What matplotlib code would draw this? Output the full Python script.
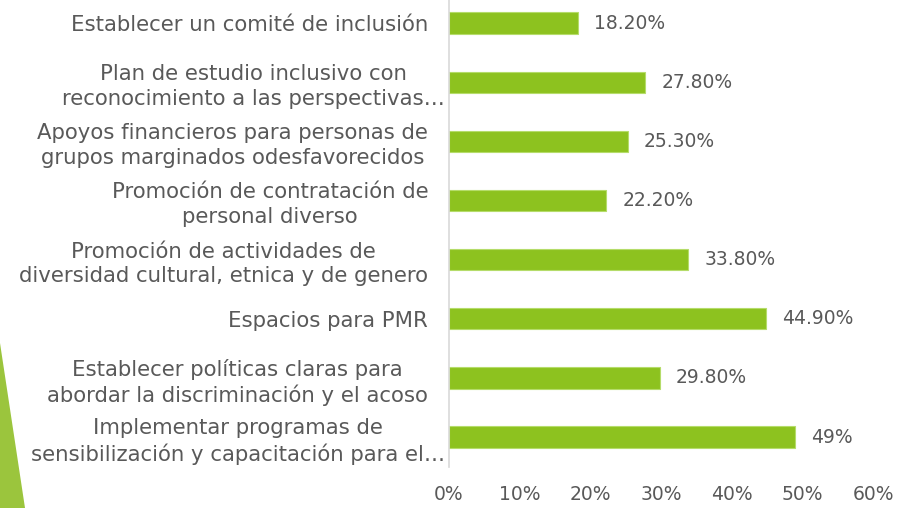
import matplotlib
matplotlib.use("Agg")
import matplotlib.pyplot as plt
import matplotlib.transforms as mtransforms
from matplotlib.patches import Polygon
from matplotlib.ticker import FuncFormatter

labels = [
    "Establecer un comité de inclusión",
    "Plan de estudio inclusivo con\nreconocimiento a las perspectivas…",
    "Apoyos financieros para personas de\ngrupos marginados odesfavorecidos",
    "Promoción de contratación de\npersonal diverso",
    "Promoción de actividades de\ndiversidad cultural, etnica y de genero",
    "Espacios para PMR",
    "Establecer políticas claras para\nabordar la discriminación y el acoso",
    "Implementar programas de\nsensibilización y capacitación para el…",
]
values = [18.2, 27.8, 25.3, 22.2, 33.8, 44.9, 29.8, 49]
value_labels = ["18.20%", "27.80%", "25.30%", "22.20%", "33.80%", "44.90%", "29.80%", "49%"]
xticks = [0, 10, 20, 30, 40, 50, 60]

text_color = "#595959"
bar_color = "#8DC21F"

plt.rcParams['font.family'] = ['DejaVu Sans']

fig = plt.figure(figsize=(8.97, 5.08), dpi=100)
ax = fig.add_axes([449 / 897, 41 / 508, 424 / 897, 467 / 508])

ypos = list(range(len(values)))
ax.barh(ypos, values, height=0.36, color=bar_color, edgecolor="#B5DC6A", linewidth=0.8)

for y, v, s in zip(ypos, values, value_labels):
    ax.text(v + 2.3, y, s, va="center", ha="left", fontsize=13.5, color=text_color)

ax.set_xlim(0, 60)
ax.set_ylim(7.507, -0.389)
ax.set_xticks(xticks)
ax.xaxis.set_major_formatter(FuncFormatter(lambda v, p: f"{v:.0f}%"))
ax.set_yticks(ypos)
ax.set_yticklabels(labels)

ax.tick_params(axis="y", length=0, pad=15, labelsize=15.3, labelcolor=text_color)
ax.tick_params(axis="x", length=0, pad=13, labelsize=13.5, labelcolor=text_color)

# truncated labels (ending in "…") sit a bit further right, like in the slide
shift = mtransforms.ScaledTranslation(12 / 72, 0, fig.dpi_scale_trans)
for lbl in ax.get_yticklabels():
    lbl.set_multialignment("center")
    lbl.set_linespacing(1.3)
    if lbl.get_text().endswith("…"):
        lbl.set_transform(lbl.get_transform() + shift)

for side in ["top", "right", "bottom"]:
    ax.spines[side].set_visible(False)
ax.spines["left"].set_color("#D9D9D9")
ax.spines["left"].set_linewidth(1.2)

# green decoration in the bottom-left corner of the slide
tri = Polygon([(0, 1 - 343 / 508), (25 / 897, 0), (0, 0)], closed=True,
              transform=fig.transFigure, facecolor="#9BC53D", edgecolor="none")
fig.patches.append(tri)

fig.savefig("out.png", dpi=100)
